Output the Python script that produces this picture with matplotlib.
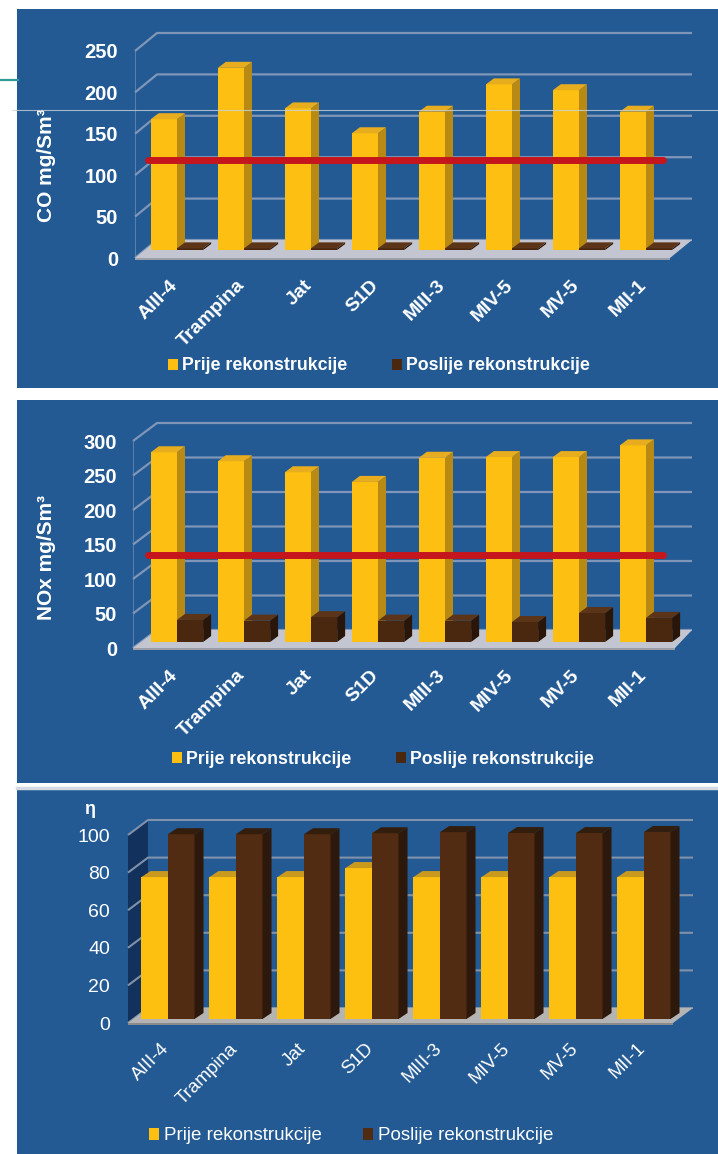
import matplotlib
matplotlib.use("Agg")
import matplotlib.pyplot as plt
from matplotlib.patches import Rectangle, Polygon, Patch
from matplotlib.lines import Line2D

# ---------------- data ----------------
categories = ["AIII-4", "Trampina", "Jat", "S1D", "MIII-3", "MIV-5", "MV-5", "MII-1"]
series_names = ["Prije rekonstrukcije", "Poslije rekonstrukcije"]

co_before = [158, 220, 171, 141, 167, 200, 193, 167]
co_after = [2, 2, 2, 2, 2, 2, 2, 2]
co_limit = 109
co_ticks = [0, 50, 100, 150, 200, 250]
co_label = "CO mg/Sm³"

nox_before = [275, 262, 246, 232, 267, 268, 268, 285]
nox_after = [32, 31, 36, 31, 31, 29, 42, 35]
nox_limit = 126
nox_ticks = [0, 50, 100, 150, 200, 250, 300]
nox_label = "NOx mg/Sm³"

eta_before = [75.5, 75.5, 75.5, 80.3, 75.5, 75.5, 75.5, 75.5]
eta_after = [98.3, 98.3, 98.3, 98.8, 99.4, 98.9, 98.9, 99.5]
eta_ticks = [0, 20, 40, 60, 80, 100]
eta_label = "η"

# ---------------- figure ----------------
W, H, DPI = 718, 1154, 100
fig = plt.figure(figsize=(W / DPI, H / DPI), dpi=DPI, facecolor="white")
BLUE = "#235a93"
FAM = ["Liberation Sans", "DejaVu Sans"]


def fig_rect(l, t, r, b):
    return [l / W, 1 - b / H, (r - l) / W, (b - t) / H]


def panel(top, bottom, c0, pitch, b0, s, front_off, back_off, wall_fx, wall_bx,
          floor_rf, floor_rb, bdx, bdy, before, after, ticks, limit, tick_right,
          style):
    bold = style["bold"]
    weight = "bold" if bold else "normal"
    # background
    fig.patches.append(Rectangle((17 / W, 1 - bottom / H), (W - 17) / W, (bottom - top) / H,
                                 transform=fig.transFigure, facecolor=BLUE,
                                 edgecolor="none", zorder=-10))
    L, R = wall_fx, floor_rb
    B = b0 + front_off
    T = top + 12
    ax = fig.add_axes(fig_rect(L, T, R, B))
    ax.set_zorder(1)
    ax.patch.set_visible(False)
    for sp in ax.spines.values():
        sp.set_visible(False)
    ax.set_xlim((L - c0) / pitch, (R - c0) / pitch)
    ax.set_ylim((b0 - B) / s, (b0 - T) / s)

    X = lambda px: (px - c0) / pitch
    foff = front_off / s
    boff = back_off / s
    xwf, xwb, xrf, xrb = X(wall_fx), X(wall_bx), X(floor_rf), X(floor_rb)
    vmax = ticks[-1]

    # left wall
    if style["wall"]:
        ax.add_patch(Polygon([(xwf, -foff), (xwb, boff), (xwb, vmax + boff), (xwf, vmax - foff)],
                             closed=True, facecolor=style["wall"], edgecolor="none",
                             zorder=1, clip_on=False))
    else:
        ax.plot([xwf, xwf], [-foff, vmax - foff], color=style["grid"], lw=0.8,
                alpha=0.6, zorder=1, clip_on=False)
    # gridlines (back wall + side wall diagonals)
    for v in ticks:
        ax.plot([xwf, xwb, xrb], [v - foff, v + boff, v + boff], color=style["grid"],
                lw=style["grid_lw"], zorder=1.5, clip_on=False, solid_capstyle="butt")
    # floor
    ax.add_patch(Polygon([(xwf, -foff), (xrf, -foff), (xrb, boff), (xwb, boff)], closed=True,
                         facecolor=style["floor"], edgecolor="none", zorder=2, clip_on=False))
    ax.add_patch(Polygon([(xwf, -foff), (xrf, -foff), (xrf, -foff - 2 / s), (xwf, -foff - 2 / s)],
                         closed=True, facecolor=style["floor_edge"], edgecolor="none",
                         zorder=2, clip_on=False))

    # bars
    n = len(categories)
    w = 0.39
    dx = bdx / pitch
    dy = bdy / s
    xs = list(range(n))
    y_bars = ax.bar([x - w / 2 for x in xs], before, width=w, color=style["y_front"],
                    linewidth=0, clip_on=False)
    b_bars = ax.bar([x + w / 2 for x in xs], after, width=w, color=style["b_front"],
                    linewidth=0, clip_on=False)
    for i in xs:
        base = 3 + i * 0.1
        for k, (bars, vals, side_c, top_c) in enumerate(
                [(y_bars, before, style["y_side"], style["y_top"]),
                 (b_bars, after, style["b_side"], style["b_top"])]):
            p = bars[i]
            p.set_zorder(base + k * 0.04)
            xl = p.get_x()
            xr = xl + p.get_width()
            h = vals[i]
            ax.add_patch(Polygon([(xr, 0), (xr + dx, dy), (xr + dx, h + dy), (xr, h)],
                                 closed=True, facecolor=side_c, edgecolor="none",
                                 zorder=base + k * 0.04 + 0.01, clip_on=False))
            ax.add_patch(Polygon([(xl, h), (xl + dx, h + dy), (xr + dx, h + dy), (xr, h)],
                                 closed=True, facecolor=top_c, edgecolor="none",
                                 zorder=base + k * 0.04 + 0.02, clip_on=False))

    # limit line
    if limit is not None:
        ax.hlines(limit, xs[0] - 1.1 * w, xs[-1] + 0.65 * w, color="#c4161c", lw=5,
                  zorder=20, capstyle="round")

    # ticks
    ax.set_yticks([v - foff for v in ticks], [str(v) for v in ticks])
    ax.tick_params(axis="y", length=0, pad=(L - tick_right) * 0.72,
                   labelsize=style["ytick_size"], labelcolor="white")
    for lab in ax.get_yticklabels():
        lab.set_fontweight(weight)
        lab.set_family(FAM)
    ax.set_xticks([x + style["xl_off"] / pitch for x in xs], categories)
    ax.tick_params(axis="x", length=0, pad=style["xl_pad"] * 0.72,
                   labelsize=style["xtick_size"], labelcolor="white")
    for lab in ax.get_xticklabels():
        lab.set_rotation(45)
        lab.set_ha("right")
        lab.set_va("top")
        lab.set_rotation_mode("anchor")
        lab.set_fontweight(weight)
        lab.set_family(FAM)

    # legend
    handles = [Patch(facecolor=style["y_front"], edgecolor="none"),
               Patch(facecolor=style["b_front"], edgecolor="none")]
    lx, ly = style["legend_xy"]
    leg = ax.legend(handles, series_names, loc="center left",
                    bbox_to_anchor=(lx / W, 1 - ly / H), bbox_transform=fig.transFigure,
                    ncol=2, frameon=False, handlelength=0.55, handleheight=0.55,
                    handletextpad=0.25, columnspacing=style["colspace"], borderpad=0,
                    borderaxespad=0, prop={"family": FAM, "weight": weight,
                                           "size": style["legend_size"]})
    for t in leg.get_texts():
        t.set_color("white")
    return ax


bold_style = dict(bold=True, wall=None, grid="#8096b8", grid_lw=1.6, floor="#c3c6d0",
                  floor_edge="#9a9ea8",
                  y_front="#fcbf12", y_side="#b88a14", y_top="#e8ad1e",
                  b_front="#4a2810", b_side="#2a1608", b_top="#5c3418",
                  ytick_size=14.5, xtick_size=14, legend_size=12.8,
                  xl_off=-8, xl_pad=19, colspace=2.5)

s1 = dict(bold_style, legend_xy=(168, 366))
panel(9, 388, 177, 67, 250, 0.828, 8, 10, 135, 157, 670, 692, 8, 6,
      co_before, co_after, co_ticks, co_limit, 118, s1)

s2 = dict(bold_style, legend_xy=(172, 759))
panel(400, 783, 177, 67, 642, 0.69, 6, 12, 133, 157, 675, 692, 8, 6,
      nox_before, nox_after, nox_ticks, nox_limit, 117, s2)

s3 = dict(bold=False, wall="#12315c", grid="#8091aa", grid_lw=1.5, floor="#b4b4b4",
          floor_edge="#8a8a8a",
          y_front="#fdc010", y_side="#a8800e", y_top="#c99a1e",
          b_front="#512c12", b_side="#2d190b", b_top="#331d0d",
          ytick_size=14, xtick_size=13.5, legend_size=13.5,
          xl_off=-7, xl_pad=17, colspace=2.2, legend_xy=(149, 1136))
panel(790, 1154, 168, 68, 1019, 1.88, 4, 11, 128, 148, 673, 693, 9, 6,
      eta_before, eta_after, eta_ticks, None, 110, s3)

# axis titles
fig.text(47 / W, 1 - 165 / H, co_label, rotation=90, ha="center", va="center",
         color="white", fontsize=15, fontweight="bold", family=FAM)
fig.text(47 / W, 1 - 557 / H, nox_label, rotation=90, ha="center", va="center",
         color="white", fontsize=15, fontweight="bold", family=FAM)
fig.text(90 / W, 1 - 809 / H, eta_label, ha="center", va="center",
         color="white", fontsize=13, fontweight="bold", family=FAM)

# slide decorations
fig.add_artist(Line2D([0, 18 / W], [1 - 80 / H, 1 - 80 / H], color="#2e9e9b", lw=1.6,
                      transform=fig.transFigure))
fig.add_artist(Line2D([12 / W, 1], [1 - 110 / H, 1 - 110 / H], color="#c6d2df", lw=0.8,
                      alpha=0.8, transform=fig.transFigure, zorder=5))
fig.add_artist(Line2D([17 / W, 1], [1 - 787.5 / H, 1 - 787.5 / H], color="#d5dae2", lw=2.5,
                      transform=fig.transFigure))

fig.savefig("out.png", dpi=DPI, facecolor="white")
